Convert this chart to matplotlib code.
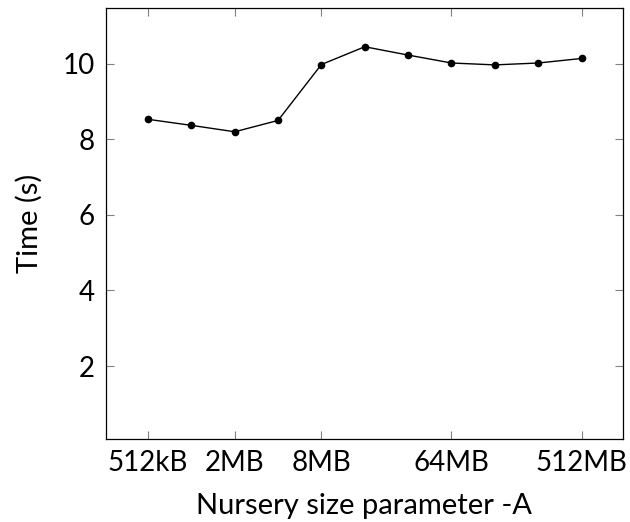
import matplotlib.pyplot as plt

plt.rcParams['font.family'] = ['Lato', 'DejaVu Sans']

# nursery size in kB
sizes_kb = [512, 1024, 2048, 4096, 8192, 16384, 32768, 65536, 131072, 262144, 524288]
times = [8.53, 8.37, 8.20, 8.50, 9.98, 10.45, 10.23, 10.02, 9.97, 10.02, 10.14]

tick_sizes = [512, 2048, 8192, 65536, 524288]
tick_labels = ['512kB', '2MB', '8MB', '64MB', '512MB']
ytick_vals = [2, 4, 6, 8, 10]

fig = plt.figure(figsize=(6.3, 5.22), dpi=100)
ax = fig.add_axes([0.168, 0.159, 0.821, 0.826])

ax.plot(sizes_kb, times, color='black', linewidth=1, marker='o', markersize=4.5)

ax.set_xscale('log', base=2)
ax.set_xlim(256 * 1.02, 1048576 / 1.03)
ax.set_ylim(0.07, 11.48)
ax.minorticks_off()
ax.set_xticks(tick_sizes)
ax.set_xticklabels(tick_labels)
ax.set_yticks(ytick_vals)
ax.set_yticklabels([str(v) for v in ytick_vals])

ax.tick_params(direction='in', length=6, color='gray', width=0.8,
               top=True, right=True, labelsize=20, pad=8)
for s in ax.spines.values():
    s.set_linewidth(0.9)

ax.set_xlabel('Nursery size parameter -A', fontsize=21, labelpad=12)
ax.set_ylabel('Time (s)', fontsize=21, labelpad=14)

fig.savefig('out.png', dpi=100)
